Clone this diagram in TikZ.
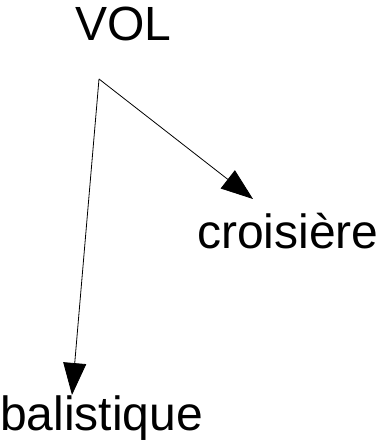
\documentclass[tikz,border=0pt]{standalone}
\usepackage{fontspec}
\setmainfont{Liberation Sans}
\usetikzlibrary{arrows.meta}
\tikzset{
  lbl/.style={inner sep=0pt, font=\fontsize{48}{48}\selectfont},
  link/.style={line width=0.8pt, -{Triangle[length=32pt,width=23pt]}}
}
\begin{document}
\begin{tikzpicture}[x=1pt,y=-1pt]
  \useasboundingbox (0,0) rectangle (378,441);
  % labels
  \node[lbl, anchor=base] (vol) at (123.5,41) {VOL};
  \node[lbl, anchor=base west] (cro) at (197,248) {croisière};
  \node[lbl, anchor=base west] (bal) at (0,430) {balistique};
  % branching point and arrow ends
  \coordinate (root) at (99,79);
  \coordinate (tipcro) at (253,199);
  \coordinate (tipbal) at (72,395);
  \draw[link] (root) -- (tipcro);
  \draw[link] (root) -- (tipbal);
\end{tikzpicture}
\end{document}
